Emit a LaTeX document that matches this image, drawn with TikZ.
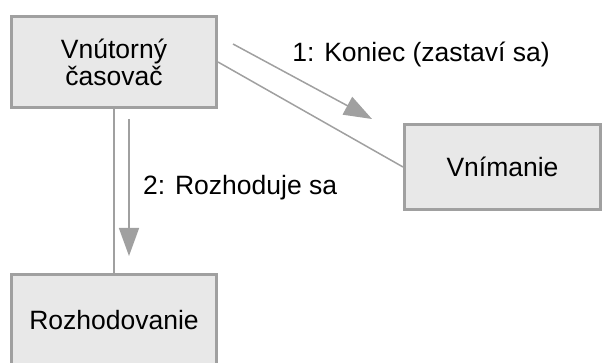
\documentclass[tikz,border=0pt]{standalone}
\usepackage{fontspec}
\setmainfont{Liberation Sans}
\usetikzlibrary{arrows.meta,positioning}
\definecolor{boxline}{RGB}{160,160,160}
\definecolor{boxfill}{RGB}{232,232,232}

\begin{document}
\begin{tikzpicture}[
  x=1pt, y=-1pt,
  box/.style={draw=boxline, fill=boxfill, line width=3pt, inner sep=0pt,
    font=\fontsize{26.5}{27}\selectfont, align=center},
  lbl/.style={font=\fontsize{26.5}{27}\selectfont, inner sep=0pt},
  link/.style={draw=boxline, line width=1.5pt},
  arrow/.style={-{Triangle[length=28pt, width=20pt]}, draw=boxline, line width=1.5pt}
]
\useasboundingbox (0,0) rectangle (602,363);

\node[box, minimum width=205pt, minimum height=91pt] (timer) at (114,62) {Vnútorný\\časovač};
\node[box, minimum width=196pt, minimum height=85pt] (perc) at (502.5,167) {Vnímanie};
\node[box, minimum width=205pt, minimum height=91pt] (decide) at (114,320) {Rozhodovanie};

\draw[link] (timer.east) -- (perc.west);
\draw[link] (timer.south) -- (decide.north);

% message arrows
\coordinate (k1) at (233,44);
\coordinate (k2) at (372,119);
\draw[arrow] (k1) -- (k2);
\node[lbl, anchor=base] (lab1) at (421,62) {1: Koniec (zastaví sa)};

\coordinate (r1) at (129,119);
\coordinate (r2) at (129,256);
\draw[arrow] (r1) -- (r2);
\node[lbl, anchor=base west] (lab2) at (143,195) {2: Rozhoduje sa};
\end{tikzpicture}
\end{document}
